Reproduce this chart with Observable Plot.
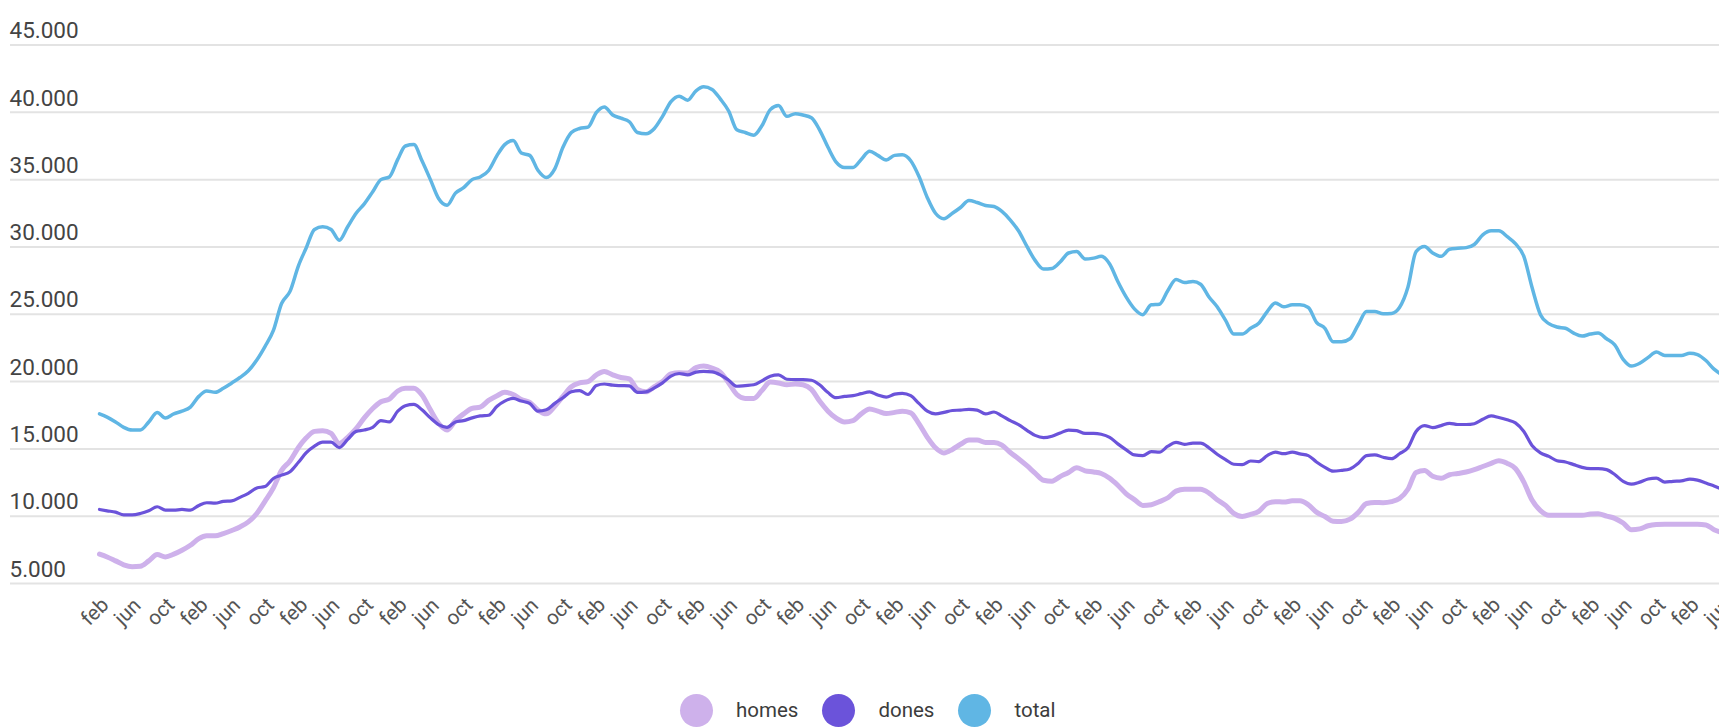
<!DOCTYPE html>
<html>
<head>
<meta charset="utf-8">
<script src="https://cdn.jsdelivr.net/npm/d3@7"></script>
<script src="https://cdn.jsdelivr.net/npm/@observablehq/plot@0.6"></script>
<style>
  html, body { margin: 0; padding: 0; background: #fff; overflow: hidden; }
  body { width: 1719px; height: 727px; position: relative; font-family: Roboto, "Liberation Sans", sans-serif; }
  #chart svg { display: block; max-width: none; }
  #legend { position: absolute; left: 680px; top: 690px; height: 40px; display: flex; align-items: center; }
  .item { display: flex; align-items: center; margin-right: 24px; }
  .dot { width: 33px; height: 33px; border-radius: 50%; margin-right: 23px; }
  .lab { font-size: 20.5px; color: #3c3c3c; }
</style>
</head>
<body>
<div id="chart"></div>
<div id="legend"></div>
<script>
// monthly series, first point = February 2007
const startYear = 2007;
const startMonth = 1; // February (0-based)

const total = [
17600,17360,17000,16600,16400,16400,17000,17700,17300,17600,17800,18100,
18900,19300,19200,19500,19900,20300,20800,21600,22600,23800,25800,26700,
28600,29900,31300,31500,31300,30500,31500,32500,33200,34100,35000,35200,
36500,37500,37600,36400,35000,33600,33100,34000,34400,35000,35200,35680,
36800,37600,37900,36980,36800,35700,35160,35800,37400,38500,38800,38900,
40000,40400,39800,39560,39300,38500,38400,38800,39700,40800,41200,40900,
41600,41900,41700,41000,40100,38700,38500,38300,39000,40200,40500,39700,
39900,39800,39600,38700,37400,36300,35900,35900,36500,37100,36800,36450,
36800,36840,36400,35250,33660,32500,32100,32500,32930,33450,33300,33080,
33000,32640,32000,31200,30040,29000,28360,28400,28880,29550,29660,29100,
29170,29300,28730,27430,26270,25400,24970,25700,25750,26770,27580,27350,
27430,27230,26280,25550,24540,23530,23530,23960,24340,25200,25840,25550,
25700,25700,25500,24400,23960,22950,22950,23180,24200,25200,25200,25030,
25060,25500,27000,29660,30040,29550,29300,29830,29900,29950,30180,30900,
31200,31200,30760,30240,29300,27000,24970,24300,24050,23960,23600,23380,
23530,23600,23180,22720,21650,21150,21360,21800,22200,21940,21940,21940,
22100,22000,21560,20920,20490
];

const dones = [
10500,10400,10300,10100,10100,10200,10400,10700,10450,10450,10500,10450,
10800,11000,10970,11100,11140,11400,11700,12100,12200,12800,13050,13300,
14000,14700,15200,15500,15500,15100,15700,16300,16400,16600,17100,17000,
17800,18200,18300,17900,17300,16800,16600,17000,17100,17300,17450,17500,
18170,18550,18750,18550,18380,17800,17900,18380,18800,19240,19330,19040,
19700,19820,19730,19700,19680,19200,19240,19530,19900,20400,20600,20500,
20700,20750,20720,20500,20100,19650,19700,19760,20050,20400,20500,20170,
20140,20140,20100,19760,19180,18800,18900,18950,19100,19240,19000,18840,
19070,19130,18950,18380,17800,17600,17710,17850,17880,17940,17880,17600,
17740,17450,17100,16800,16380,16000,15830,15940,16180,16400,16350,16150,
16150,16090,15860,15370,14930,14550,14500,14790,14760,15200,15480,15340,
15420,15420,15080,14600,14200,13860,13830,14100,14060,14500,14760,14640,
14760,14630,14500,14030,13630,13340,13400,13510,13920,14500,14560,14380,
14270,14640,15080,16290,16730,16580,16730,16900,16810,16810,16870,17200,
17450,17330,17160,16930,16290,15250,14700,14440,14120,14030,13830,13630,
13540,13540,13460,13100,12590,12380,12530,12760,12820,12530,12590,12620,
12760,12680,12470,12240,12000
];

const homes = [
7180,6970,6680,6390,6250,6280,6680,7150,6970,7180,7470,7840,
8330,8540,8540,8710,8940,9200,9580,10200,11100,12100,13400,14100,
15100,15800,16300,16350,16150,15400,15860,16500,17300,18000,18500,18700,
19300,19500,19500,19000,17900,16900,16400,17100,17600,18000,18100,18600,
18950,19200,19040,18670,18460,17880,17600,18170,18900,19620,19900,20000,
20500,20750,20500,20300,20200,19420,19240,19620,20000,20570,20660,20630,
21040,21150,21000,20700,19900,19040,18750,18750,19330,19960,19900,19760,
19820,19760,19420,18550,17800,17280,17000,17100,17600,17970,17800,17620,
17710,17800,17680,16870,15860,15080,14700,14960,15340,15650,15650,15480,
15480,15280,14730,14270,13750,13200,12670,12600,12940,13250,13600,13370,
13280,13170,12820,12300,11660,11230,10800,10850,11080,11370,11860,12000,
12000,12000,11720,11230,10800,10210,9980,10130,10360,10940,11080,11050,
11140,11150,10850,10300,9980,9630,9600,9780,10270,10940,11020,11000,
11080,11310,12000,13250,13400,12960,12820,13080,13170,13280,13460,13690,
13920,14120,13920,13540,12530,11200,10420,10070,10070,10070,10070,10070,
10160,10190,10010,9840,9490,9000,9060,9290,9380,9400,9400,9400,
9400,9400,9350,9000,8770
];

const seriesNames = ["homes", "dones", "total"];
const seriesColors = ["#ceb1eb", "#6b53da", "#60b6e4"];
const seriesValues = [homes, dones, total];

const yTicks = [5000, 10000, 15000, 20000, 25000, 30000, 35000, 40000, 45000];
const tickMonthNames = {1: "feb", 5: "jun", 9: "oct"};

const dates = total.map((_, i) => new Date(Date.UTC(startYear, startMonth + i, 1)));
const tickDates = dates.filter(d => tickMonthNames[d.getUTCMonth()] !== undefined);

const locale = d3.formatLocale({decimal: ",", thousands: ".", grouping: [3], currency: ["", "€"]});
const fmt = locale.format(",d");

const widths = [5, 3.2, 3.5];

const lineMarks = seriesNames.map((name, k) =>
  Plot.line(seriesValues[k].map((v, i) => ({date: dates[i], value: v, series: name})), {
    x: "date", y: "value", stroke: "series", strokeWidth: widths[k],
    curve: "monotone-x", strokeLinejoin: "round", strokeLinecap: "round"
  })
);

const chart = Plot.plot({
  width: 1719,
  height: 687,
  marginLeft: 10,
  marginRight: 0,
  marginTop: 0,
  marginBottom: 104,
  style: {fontFamily: "Roboto, 'Liberation Sans', sans-serif", background: "#fff", overflow: "hidden"},
  x: {type: "utc", domain: [dates[0], dates[dates.length - 1]], range: [99, 1722], axis: null},
  y: {domain: [5000, 45000], range: [583, 44.5], axis: null},
  color: {domain: seriesNames, range: seriesColors},
  marks: [
    Plot.ruleY(yTicks, {stroke: "#e3e3e3", strokeWidth: 2}),
    Plot.text(yTicks, {y: d => d, text: d => fmt(d), frameAnchor: "left", dx: -1, dy: -14,
      textAnchor: "start", fontSize: 22.5, fill: "#444"}),
    Plot.text(tickDates, {x: d => d, text: d => tickMonthNames[d.getUTCMonth()], frameAnchor: "bottom",
      dy: 33, rotate: -45, textAnchor: "middle", fontSize: 20.5, fill: "#555"}),
    ...lineMarks
  ]
});
document.getElementById("chart").appendChild(chart);

const legend = document.getElementById("legend");
seriesNames.forEach((name, k) => {
  const item = document.createElement("div");
  item.className = "item";
  const dot = document.createElement("div");
  dot.className = "dot";
  dot.style.background = seriesColors[k];
  const lab = document.createElement("span");
  lab.className = "lab";
  lab.textContent = name;
  item.appendChild(dot);
  item.appendChild(lab);
  legend.appendChild(item);
});
</script>
</body>
</html>
